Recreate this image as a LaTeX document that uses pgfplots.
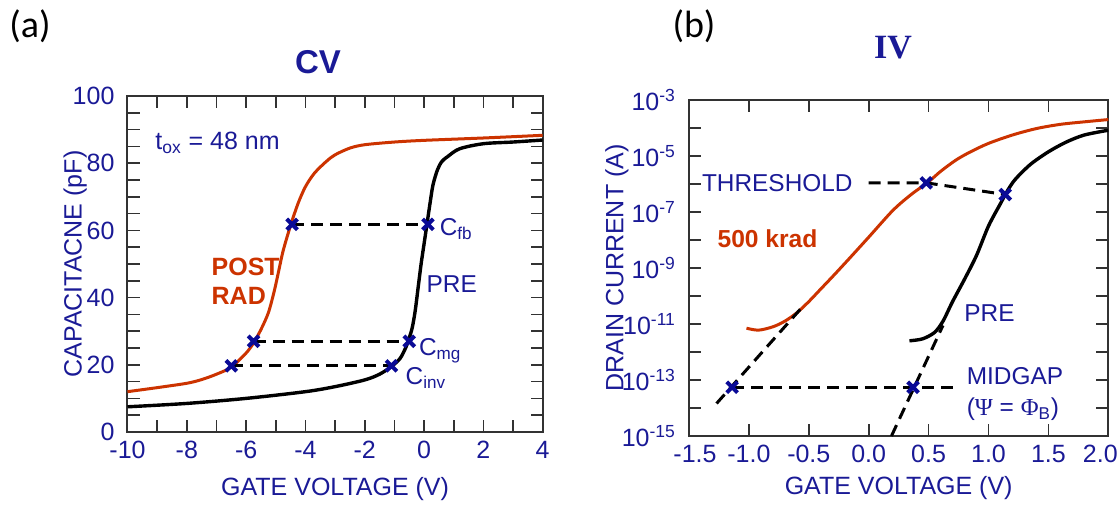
\documentclass[border=0pt]{standalone}
\usepackage{fontspec}
\setmainfont{Liberation Sans}
\newfontfamily\greekserif{Liberation Serif}
\newfontfamily\titleserif{Liberation Serif}
\newfontfamily\panelfont{Carlito}
\usepackage{pgfplots}
\pgfplotsset{compat=1.18}

\definecolor{navy}{RGB}{26,26,150}
\definecolor{postred}{RGB}{204,51,0}
\definecolor{xblue}{RGB}{10,10,150}
\definecolor{framegray}{RGB}{50,50,50}

\tikzset{lbl/.style={anchor=west, text=navy, font=\fontsize{12.2}{14}\selectfont}}
\pgfplotsset{
  panel/.style={
    scale only axis,
    anchor=south west,
    axis line style={framegray, line width=1pt},
    every tick/.style={framegray, line width=0.8pt},
    major tick length=6pt, minor tick length=6pt,
    tick align=inside,
    tick label style={font=\fontsize{12.5}{14}\selectfont, text=navy},
    xticklabel style={yshift=-1pt},
    yticklabel style={xshift=-3pt},
    label style={font=\fontsize{12.5}{14}\selectfont, text=navy},
    /pgf/number format/assume math mode=true,
  },
  curve/.style={line width=1.5pt, smooth, tension=0.5, no marks},
  guide/.style={black, line width=1.5pt, dash pattern=on 6pt off 3.5pt, no marks},
  cross/.style={only marks, mark=x, mark size=3.8pt, mark options={xblue, line width=2pt}},
}

\begin{document}
\begin{tikzpicture}
\path[use as bounding box] (0,0) rectangle (560pt,254pt);

\node[font=\panelfont\fontsize{19}{20}\selectfont] at (15pt,241pt) {(a)};
\node[font=\panelfont\fontsize{19}{20}\selectfont] at (347pt,241pt) {(b)};
\node[font=\bfseries\fontsize{16.5}{18}\selectfont, text=navy] at (159pt,223pt) {CV};
\node[font=\titleserif\bfseries\fontsize{17}{18}\selectfont, text=navy] at (446.5pt,230pt) {IV};

% (a) CV
\begin{axis}[panel,
  at={(63.75pt,38pt)}, width=207.6pt, height=168pt,
  xmin=-10, xmax=4, ymin=0, ymax=100,
  xtick={-10,-8,...,4}, minor x tick num=1,
  ytick={0,20,...,100}, minor y tick num=3,
  xlabel={GATE VOLTAGE (V)},
  ylabel={CAPACITACNE (pF)},
  xlabel style={at={(axis description cs:0.5,-0.17)}, anchor=center},
  ylabel style={at={(axis description cs:-0.126,0.5)}, anchor=center},
]
% pre-irradiation
\addplot[curve, black, line width=1.7pt] coordinates {
(-10,7.5) (-8,8.5) (-6,10.0) (-4,12.0) (-3,13.5) (-2,15.5) (-1.5,17.2)
(-1.1,19.5) (-0.8,22) (-0.6,25.5) (-0.5,28) (-0.4,31) (-0.3,36) (-0.2,43)
(-0.1,50) (0,56) (0.1,62) (0.2,68) (0.3,73.5) (0.45,78) (0.6,80.5)
(0.8,82) (1.2,84.3) (2,85.8) (3,86.3) (4,86.9)};
% post-rad
\addplot[curve, postred] coordinates {
(-10,12) (-9,13.2) (-8,14.5) (-7.5,15.6) (-7,17.2) (-6.5,19.3) (-6,23.5)
(-5.75,26.5) (-5.5,30.5) (-5.25,35.5) (-5.05,42) (-4.9,48) (-4.75,54)
(-4.5,61.5) (-4.25,68) (-4.0,73) (-3.7,77) (-3.3,80.5) (-3,82.5)
(-2.5,84.5) (-2,85.5) (-1,86.3) (0,86.8) (2,87.5) (4,88.3)};
\addplot[guide] coordinates {(-4.45,61.8) (0.13,61.8)};
\addplot[guide] coordinates {(-5.75,27) (-0.5,27)};
\addplot[guide] coordinates {(-6.5,19.7) (-1.1,19.7)};
\addplot[cross] coordinates {(-4.45,61.8) (0.13,61.8) (-5.75,27) (-0.5,27) (-6.5,19.7) (-1.1,19.7)};
\node[lbl, font=\fontsize{12.5}{14}\selectfont] at (axis cs:-9.3,86) {t\textsubscript{ox} = 48 nm};
\node[anchor=west, text=postred, font=\bfseries\fontsize{12.5}{14.5}\selectfont, align=left] at (axis cs:-7.4,45) {POST\\RAD};
\node[lbl] at (axis cs:-0.15,44) {PRE};
\node[lbl, inner sep=1pt] at (axis cs:0.45,60.5) {C\textsubscript{fb}};
\node[lbl, inner sep=1pt] at (axis cs:-0.25,24.2) {C\textsubscript{mg}};
\node[lbl, inner sep=1pt] at (axis cs:-0.7,16.2) {C\textsubscript{inv}};
\end{axis}

% (b) IV
\begin{axis}[panel,
  at={(344.5pt,36pt)}, width=209.65pt, height=168pt,
  ymode=log,
  xmin=-1.5, xmax=2.0, ymin=1e-15, ymax=1e-3,
  xtick={-1.5,-1.0,...,2.0},
  xticklabels={{-1.5\hspace*{-6pt}},-1.0,-0.5,0.0,0.5,1.0,1.5,{\hspace*{-8pt}2.0}},
  ytick={1e-15,1e-13,1e-11,1e-9,1e-7,1e-5,1e-3},
  minor ytick={1e-14,1e-12,1e-10,1e-8,1e-6,1e-4},
  yticklabels={10\textsuperscript{-15},10\textsuperscript{-13},10\textsuperscript{-11},10\textsuperscript{-9},10\textsuperscript{-7},10\textsuperscript{-5},10\textsuperscript{-3}},
  xlabel={GATE VOLTAGE (V)},
  ylabel={DRAIN CURRENT (A)},
  xlabel style={at={(axis description cs:0.5,-0.155)}, anchor=center},
  ylabel style={at={(axis description cs:-0.172,0.5)}, anchor=center},
]
% 500 krad
\addplot[curve, postred] coordinates {
(-1.02,7.08e-12) (-0.92,6.03e-12) (-0.80,7.94e-12) (-0.70,1.26e-11)
(-0.60,2.51e-11) (-0.50,6.31e-11) (-0.40,1.78e-10) (-0.30,5.01e-10)
(-0.17,2.00e-9) (0.0,1.26e-8) (0.2,1.12e-7) (0.35,4.07e-7) (0.5,1.20e-6)
(0.6,2.82e-6) (0.73,7.24e-6) (0.85,1.41e-5) (1.0,2.82e-5) (1.2,5.62e-5)
(1.4,9.55e-5) (1.6,1.35e-4) (1.8,1.66e-4) (2.0,2.00e-4)};
% pre
\addplot[curve, black, line width=1.7pt] coordinates {
(0.34,2.51e-12) (0.45,2.95e-12) (0.55,5.01e-12) (0.62,1.26e-11)
(0.70,6.31e-11) (0.80,3.98e-10) (0.90,2.82e-9) (1.00,3.16e-8)
(1.10,2.00e-7) (1.15,5.01e-7) (1.22,1.41e-6) (1.35,5.01e-6)
(1.5,1.41e-5) (1.65,3.16e-5) (1.8,5.62e-5) (2.0,8.32e-5)};
\addplot[guide] coordinates {(0.0,1.1e-6) (0.48,1.1e-6) (1.14,4.2e-7)};
\addplot[guide] coordinates {(-1.14,5.5e-14) (0.73,5.5e-14)};
\addplot[guide] coordinates {(-1.27,1.45e-14) (-0.56,3.8e-11)};
\addplot[guide] coordinates {(0.19,1e-15) (0.62,8.9e-12)};
\addplot[cross] coordinates {(0.48,1.1e-6) (1.14,4.2e-7) (-1.14,5.5e-14) (0.37,5.5e-14)};
\node[lbl] at (axis cs:-1.45,1.12e-6) {THRESHOLD};
\node[anchor=west, text=postred, font=\bfseries\fontsize{12.3}{14}\selectfont] at (axis cs:-1.32,1.1e-8) {500 krad};
\node[lbl] at (axis cs:0.74,2.5e-11) {PRE};
\node[lbl] at (axis cs:0.76,1.38e-13) {MIDGAP};
\node[lbl] at (axis cs:0.76,8.9e-15) {({\greekserif Ψ} = {\greekserif Φ}\textsubscript{B})};
\end{axis}
\end{tikzpicture}
\end{document}
